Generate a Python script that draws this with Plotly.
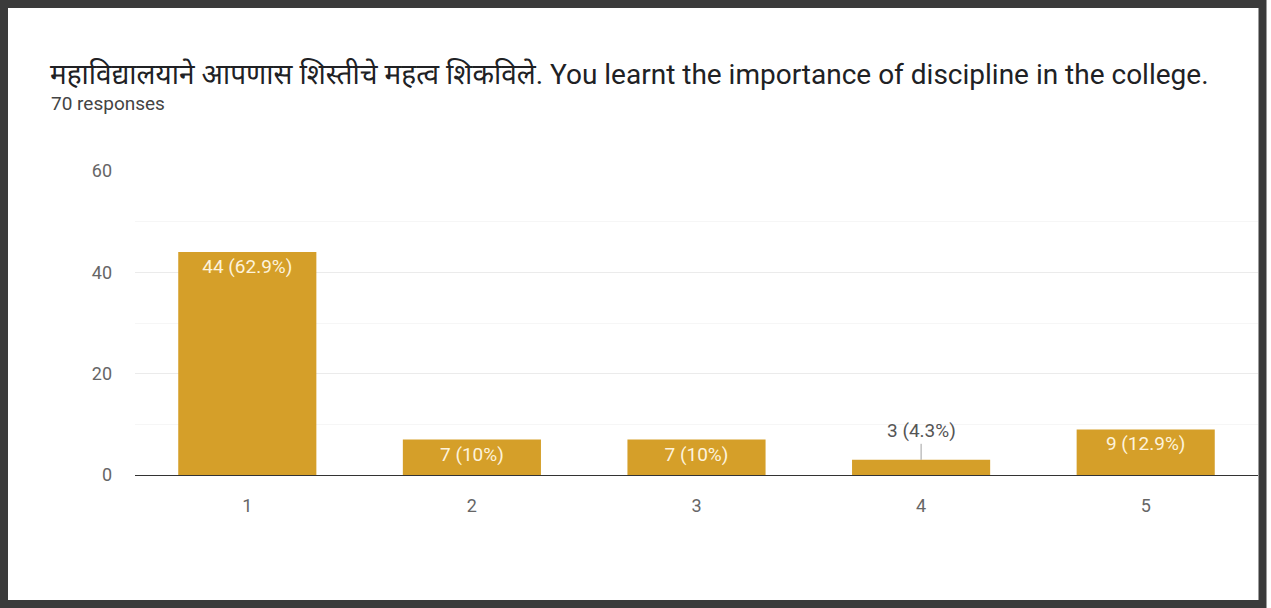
import plotly.graph_objects as go

categories = ["1", "2", "3", "4", "5"]
counts = [44, 7, 7, 3, 9]
percents = ["62.9%", "10%", "10%", "4.3%", "12.9%"]
title_text = "महाविद्यालयाने आपणास शिस्तीचे महत्व शिकविले. You learnt the importance of discipline in the college."
subtitle_text = "70 responses"
y_ticks = [0, 20, 40, 60]

W, H = 1271, 608
L, R, T, B = 135, 13, 171, 133
pw, ph = W - L - R, H - T - B

def px_x(p):
    return (p - L) / pw

def px_y(p):
    return (H - B - p) / ph

labels = [f"{c} ({p})" for c, p in zip(counts, percents)]
inside_text = [lab if c >= 5 else "" for lab, c in zip(labels, counts)]

fig = go.Figure()
fig.add_trace(go.Bar(
    x=categories, y=counts,
    marker=dict(color="#d59f29", line=dict(width=0)),
    text=inside_text, textposition="inside", insidetextanchor="end",
    textfont=dict(color="#fdf3dc", size=19, family="Roboto, Arial, sans-serif"),
    cliponaxis=False,
))

annotations = []
for i, (c, lab) in enumerate(zip(counts, labels)):
    if c < 5:
        annotations.append(dict(
            x=i, y=c, xref="x", yref="y", text=lab, showarrow=True,
            arrowhead=0, arrowwidth=1, arrowcolor="#a0a0a0", ax=0, ay=-29,
            font=dict(size=19, color="#555", family="Roboto, Arial, sans-serif"),
        ))

annotations.append(dict(
    x=px_x(48), y=px_y(74), xref="paper", yref="paper", xanchor="left", yanchor="middle",
    text=title_text, showarrow=False,
    font=dict(size=28, color="#202124", family="Roboto, 'Noto Sans', sans-serif"),
))
annotations.append(dict(
    x=px_x(49), y=px_y(104), xref="paper", yref="paper", xanchor="left", yanchor="middle",
    text=subtitle_text, showarrow=False,
    font=dict(size=19, color="#444", family="Roboto, Arial, sans-serif"),
))

fig.update_layout(
    width=W, height=H,
    margin=dict(l=L, r=R, t=T, b=B, pad=0),
    paper_bgcolor="white", plot_bgcolor="white",
    bargap=0.385,
    showlegend=False,
    annotations=annotations,
    font=dict(family="Roboto, Arial, sans-serif", color="#555"),
    shapes=[dict(
        type="rect", xref="paper", yref="paper",
        x0=px_x(4), x1=px_x(1262.5), y0=px_y(604), y1=px_y(4),
        line=dict(color="#3b3b3b", width=8), layer="above",
    )],
)
fig.update_yaxes(
    range=[0, 60], tickvals=y_ticks, showgrid=True, gridcolor="#ebebeb", gridwidth=1,
    minor=dict(dtick=10, showgrid=True, gridcolor="#f6f6f6", gridwidth=1),
    zeroline=False, showline=False, ticks="", ticklabelstandoff=22,
    tickfont=dict(size=18, color="#666"),
)
fig.update_xaxes(
    showline=True, linecolor="#333", linewidth=1, ticks="", showgrid=False,
    tickfont=dict(size=18, color="#666"), ticklabelstandoff=14,
)

fig.write_html(
    "out.html",
    config={"displayModeBar": False},
    post_script="document.body.style.margin='0';document.body.style.overflow='hidden';",
)
